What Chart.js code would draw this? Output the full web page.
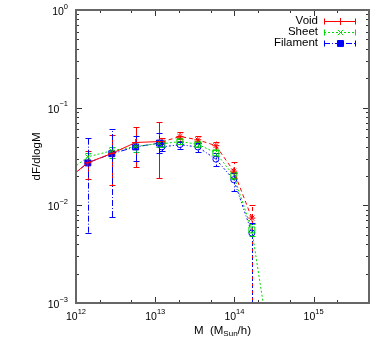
<!DOCTYPE html>
<html>
<head>
<meta charset="utf-8">
<script src="https://cdn.jsdelivr.net/npm/chart.js@4.4.0/dist/chart.umd.min.js"></script>
<style>
  html, body { margin: 0; padding: 0; background: #fff; }
  canvas { display: block; }
</style>
</head>
<body>
<canvas id="chart" width="379" height="345"></canvas>
<script>
// mass bins (M_Sun/h): low-mass run and high-mass run
const massLow  = [7.07e11, 1.41e12, 2.83e12, 5.66e12, 1.13e13];
const massHigh = [1.215e13, 2.05e13, 3.45e13, 5.83e13, 9.8e13, 1.66e14, 2.8e14];

// dF/dlogM, low-mass run
const voidLow     = [0.0173, 0.0273, 0.0340, 0.0440, 0.0450];
const sheetLow    = [0.0204, 0.0314, 0.0362, 0.0400, 0.0430];
const filamentLow = [0.0173, 0.0272, 0.0338, 0.0396, 0.0434];

const voidLowMin     = [null, 0.0186, 0.0161, 0.0246, 0.0190];
const voidLowMax     = [null, 0.0361, 0.0519, 0.0632, 0.0705];
const sheetLowMin    = [null, 0.0290, 0.0306, 0.0350, 0.0400];
const sheetLowMax    = [null, 0.0340, 0.0400, 0.0448, 0.0465];
const filamentLowMin = [null, 0.00525, 0.00759, 0.0286, 0.0343];
const filamentLowMax = [null, 0.0492, 0.0603, 0.0513, 0.0548];

// dF/dlogM, high-mass run
const voidHigh     = [0.0446, 0.0507, 0.0469, 0.0408, 0.0224, 0.0074];
const sheetHigh    = [0.0426, 0.0450, 0.0422, 0.0345, 0.0201, 0.0056, 0.00036];
const filamentHigh = [0.0396, 0.0418, 0.0396, 0.0297, 0.0183, 0.0052];

const voidHighMin     = [0.0400, 0.0460, 0.0430, 0.0370, 0.0190, 1e-6];
const voidHighMax     = [0.0490, 0.0560, 0.0510, 0.0450, 0.0275, 0.0101];
const sheetHighMin    = [0.0400, 0.0425, 0.0395, 0.0320, 0.0185, 0.0048, null];
const sheetHighMax    = [0.0450, 0.0475, 0.0450, 0.0370, 0.0218, 0.0064, null];
const filamentHighMin = [0.0360, 0.0380, 0.0350, 0.0250, 0.0139, 1e-6];
const filamentHighMax = [0.0430, 0.0450, 0.0430, 0.0340, 0.0215, 0.0066];

const xTickExp = [12, 13, 14, 15];
const yTickExp = [0, -1, -2, -3];
const legendNames = ['Void', 'Sheet', 'Filament'];

const RED = '#ff0000', GREEN = '#00dd00', BLUE = '#0000ff';
const FONT = '"Liberation Sans", Arial, sans-serif';

function pts(xs, ys) { return ys.map((v, i) => ({ x: xs[i], y: v })); }

function series(label, xs, ys, lo, hi, color, dash, style, radius, fill, legend) {
  return {
    label, data: pts(xs, ys), errMin: lo, errMax: hi, inLegend: legend,
    borderColor: color, borderWidth: 1, borderDash: dash,
    pointStyle: style, pointBorderColor: color, pointBorderWidth: 1,
    pointBackgroundColor: fill ? color : 'rgba(0,0,0,0)',
    pointRadius: c => (c.raw && c.raw.x < 1e12 ? 0 : radius),
    pointHoverRadius: 0, showLine: true, tension: 0, fill: false, clip: 0
  };
}

const datasets = [
  series(legendNames[0], massLow, voidLow, voidLowMin, voidLowMax, RED, [], 'cross', 3.5, false, true),
  series(legendNames[1], massLow, sheetLow, sheetLowMin, sheetLowMax, GREEN, [2, 2], 'crossRot', 3.5, false, true),
  series(legendNames[2], massLow, filamentLow, filamentLowMin, filamentLowMax, BLUE, [6, 2, 1, 2], 'rect', 4.2, true, true),
  series('Void (high)', massHigh, voidHigh, voidHighMin, voidHighMax, RED, [4, 3], 'star', 3.5, false, false),
  series('Sheet (high)', massHigh, sheetHigh, sheetHighMin, sheetHighMax, GREEN, [2, 2], 'rect', 4.2, false, false),
  series('Filament (high)', massHigh, filamentHigh, filamentHighMin, filamentHighMax, BLUE, [2, 2, 1, 2], 'circle', 3, false, false)
];

function drawMarker(ctx, style, x, y, r, color, fill) {
  ctx.save();
  ctx.setLineDash([]);
  ctx.strokeStyle = color; ctx.fillStyle = color; ctx.lineWidth = 1;
  ctx.beginPath();
  if (style === 'cross') {
    ctx.moveTo(x - r, y); ctx.lineTo(x + r, y); ctx.moveTo(x, y - r); ctx.lineTo(x, y + r);
  } else if (style === 'crossRot') {
    const d = r * 0.75;
    ctx.moveTo(x - d, y - d); ctx.lineTo(x + d, y + d); ctx.moveTo(x - d, y + d); ctx.lineTo(x + d, y - d);
  } else if (style === 'rect') {
    const s = r * Math.SQRT1_2;
    ctx.rect(x - s, y - s, 2 * s, 2 * s);
    if (fill) ctx.fill();
  }
  ctx.stroke();
  ctx.restore();
}

function drawPow(ctx, exp, x, y, align) {
  const base = '10', sup = String(exp).replace('-', '\u2212');
  ctx.font = '10.5px ' + FONT;
  const wb = ctx.measureText(base).width;
  ctx.font = '7.5px ' + FONT;
  const we = ctx.measureText(sup).width;
  const start = align === 'right' ? x - wb - we : x - (wb + we) / 2;
  ctx.textAlign = 'left'; ctx.textBaseline = 'middle'; ctx.fillStyle = '#000';
  ctx.font = '10.5px ' + FONT;
  ctx.fillText(base, start, y);
  ctx.font = '7.5px ' + FONT;
  ctx.fillText(sup, start + wb, y - 5.5);
}

const gnuplotLook = {
  id: 'gnuplotLook',
  beforeDatasetsDraw(chart) {
    const { ctx, chartArea: a, scales: { x, y } } = chart;
    ctx.save();
    ctx.beginPath();
    ctx.rect(a.left, a.top, a.right - a.left, a.bottom - a.top);
    ctx.clip();
    chart.data.datasets.forEach(ds => {
      ctx.strokeStyle = ds.borderColor;
      ctx.lineWidth = 1;
      ds.data.forEach((p, i) => {
        const lo = ds.errMin[i], hi = ds.errMax[i];
        if (lo == null) return;
        const px = Math.round(x.getPixelForValue(p.x)) + 0.5;
        const y1 = y.getPixelForValue(lo), y2 = y.getPixelForValue(hi);
        ctx.setLineDash(ds.borderDash);
        ctx.beginPath(); ctx.moveTo(px, y1); ctx.lineTo(px, y2); ctx.stroke();
        ctx.setLineDash([]);
        ctx.beginPath();
        ctx.moveTo(px - 3, Math.round(y1) + 0.5); ctx.lineTo(px + 3, Math.round(y1) + 0.5);
        ctx.moveTo(px - 3, Math.round(y2) + 0.5); ctx.lineTo(px + 3, Math.round(y2) + 0.5);
        ctx.stroke();
      });
    });
    ctx.restore();
  },
  afterDraw(chart) {
    const { ctx, chartArea: a, scales: { x, y } } = chart;
    ctx.save();
    // ticks, mirrored on both sides, pointing inward
    ctx.strokeStyle = '#333'; ctx.lineWidth = 1; ctx.setLineDash([]);
    ctx.beginPath();
    xTickExp.forEach(e => {
      [1, 2, 5].forEach(k => {
        const v = k * Math.pow(10, e);
        if (v < x.min || v >= x.max) return;
        const px = Math.round(x.getPixelForValue(v)) + 0.5, len = k === 1 ? 6 : 3;
        ctx.moveTo(px, a.bottom); ctx.lineTo(px, a.bottom - len);
        ctx.moveTo(px, a.top); ctx.lineTo(px, a.top + len);
      });
    });
    yTickExp.forEach(e => {
      [1, 2, 3, 4, 5, 6, 7, 8, 9].forEach(k => {
        const v = k * Math.pow(10, e);
        if (v < y.min || v > y.max) return;
        const py = Math.round(y.getPixelForValue(v)) + 0.5, len = k === 1 ? 6 : 3;
        ctx.moveTo(a.left, py); ctx.lineTo(a.left + len, py);
        ctx.moveTo(a.right, py); ctx.lineTo(a.right - len, py);
      });
    });
    ctx.stroke();
    // frame
    ctx.lineWidth = 2; ctx.strokeStyle = '#666';
    ctx.strokeRect(a.left, a.top, a.right - a.left, a.bottom - a.top);
    // tick labels
    xTickExp.forEach(e => drawPow(ctx, e, x.getPixelForValue(Math.pow(10, e)), a.bottom + 14.5, 'center'));
    yTickExp.forEach(e => drawPow(ctx, e, 68, y.getPixelForValue(Math.pow(10, e)) + 2, 'right'));
    // axis titles
    ctx.fillStyle = '#000'; ctx.textBaseline = 'middle';
    ctx.font = '11.5px ' + FONT;
    const t1 = 'M  (M', t2 = 'Sun', t3 = '/h)';
    const w1 = ctx.measureText(t1).width, w3 = ctx.measureText(t3).width;
    ctx.font = '8px ' + FONT;
    const w2 = ctx.measureText(t2).width;
    let sx = (a.left + a.right) / 2 - (w1 + w2 + w3) / 2;
    ctx.textAlign = 'left';
    ctx.font = '11.5px ' + FONT;
    ctx.fillText(t1, sx, 331);
    ctx.font = '8px ' + FONT;
    ctx.fillText(t2, sx + w1, 334);
    ctx.font = '11.5px ' + FONT;
    ctx.fillText(t3, sx + w1 + w2, 331);
    ctx.save();
    ctx.translate(37, (a.top + a.bottom) / 2);
    ctx.rotate(-Math.PI / 2);
    ctx.textAlign = 'center';
    ctx.fillText('dF/dlogM', 0, 0);
    ctx.restore();
    // legend (gnuplot style: text right-aligned, sample on the right)
    let row = 0;
    chart.data.datasets.forEach(ds => {
      if (!ds.inLegend) return;
      const ly = 21 + row * 11;
      ctx.font = '11.5px ' + FONT;
      ctx.textAlign = 'right'; ctx.fillStyle = '#000';
      ctx.fillText(ds.label, 318, ly);
      const yy = Math.round(ly) + 0.5;
      ctx.strokeStyle = ds.borderColor; ctx.lineWidth = 1;
      ctx.setLineDash(ds.borderDash);
      ctx.beginPath(); ctx.moveTo(324, yy); ctx.lineTo(356, yy); ctx.stroke();
      ctx.setLineDash([]);
      ctx.beginPath();
      ctx.moveTo(324.5, yy - 3); ctx.lineTo(324.5, yy + 3);
      ctx.moveTo(355.5, yy - 3); ctx.lineTo(355.5, yy + 3);
      ctx.stroke();
      drawMarker(ctx, ds.pointStyle, 340.5, yy, ds.pointStyle === 'rect' ? 4.2 : 3.5, ds.borderColor, ds.pointStyle === 'rect');
      row++;
    });
    ctx.restore();
  }
};

new Chart(document.getElementById('chart'), {
  type: 'line',
  data: { datasets },
  options: {
    responsive: false,
    animation: false,
    layout: { padding: { left: 76, right: 10, top: 10, bottom: 42 } },
    plugins: { legend: { display: false }, tooltip: { enabled: false } },
    scales: {
      x: { type: 'logarithmic', min: 1e12, max: 5e15, display: false },
      y: { type: 'logarithmic', min: 1e-3, max: 1, display: false }
    }
  },
  plugins: [gnuplotLook]
});
</script>
</body>
</html>
